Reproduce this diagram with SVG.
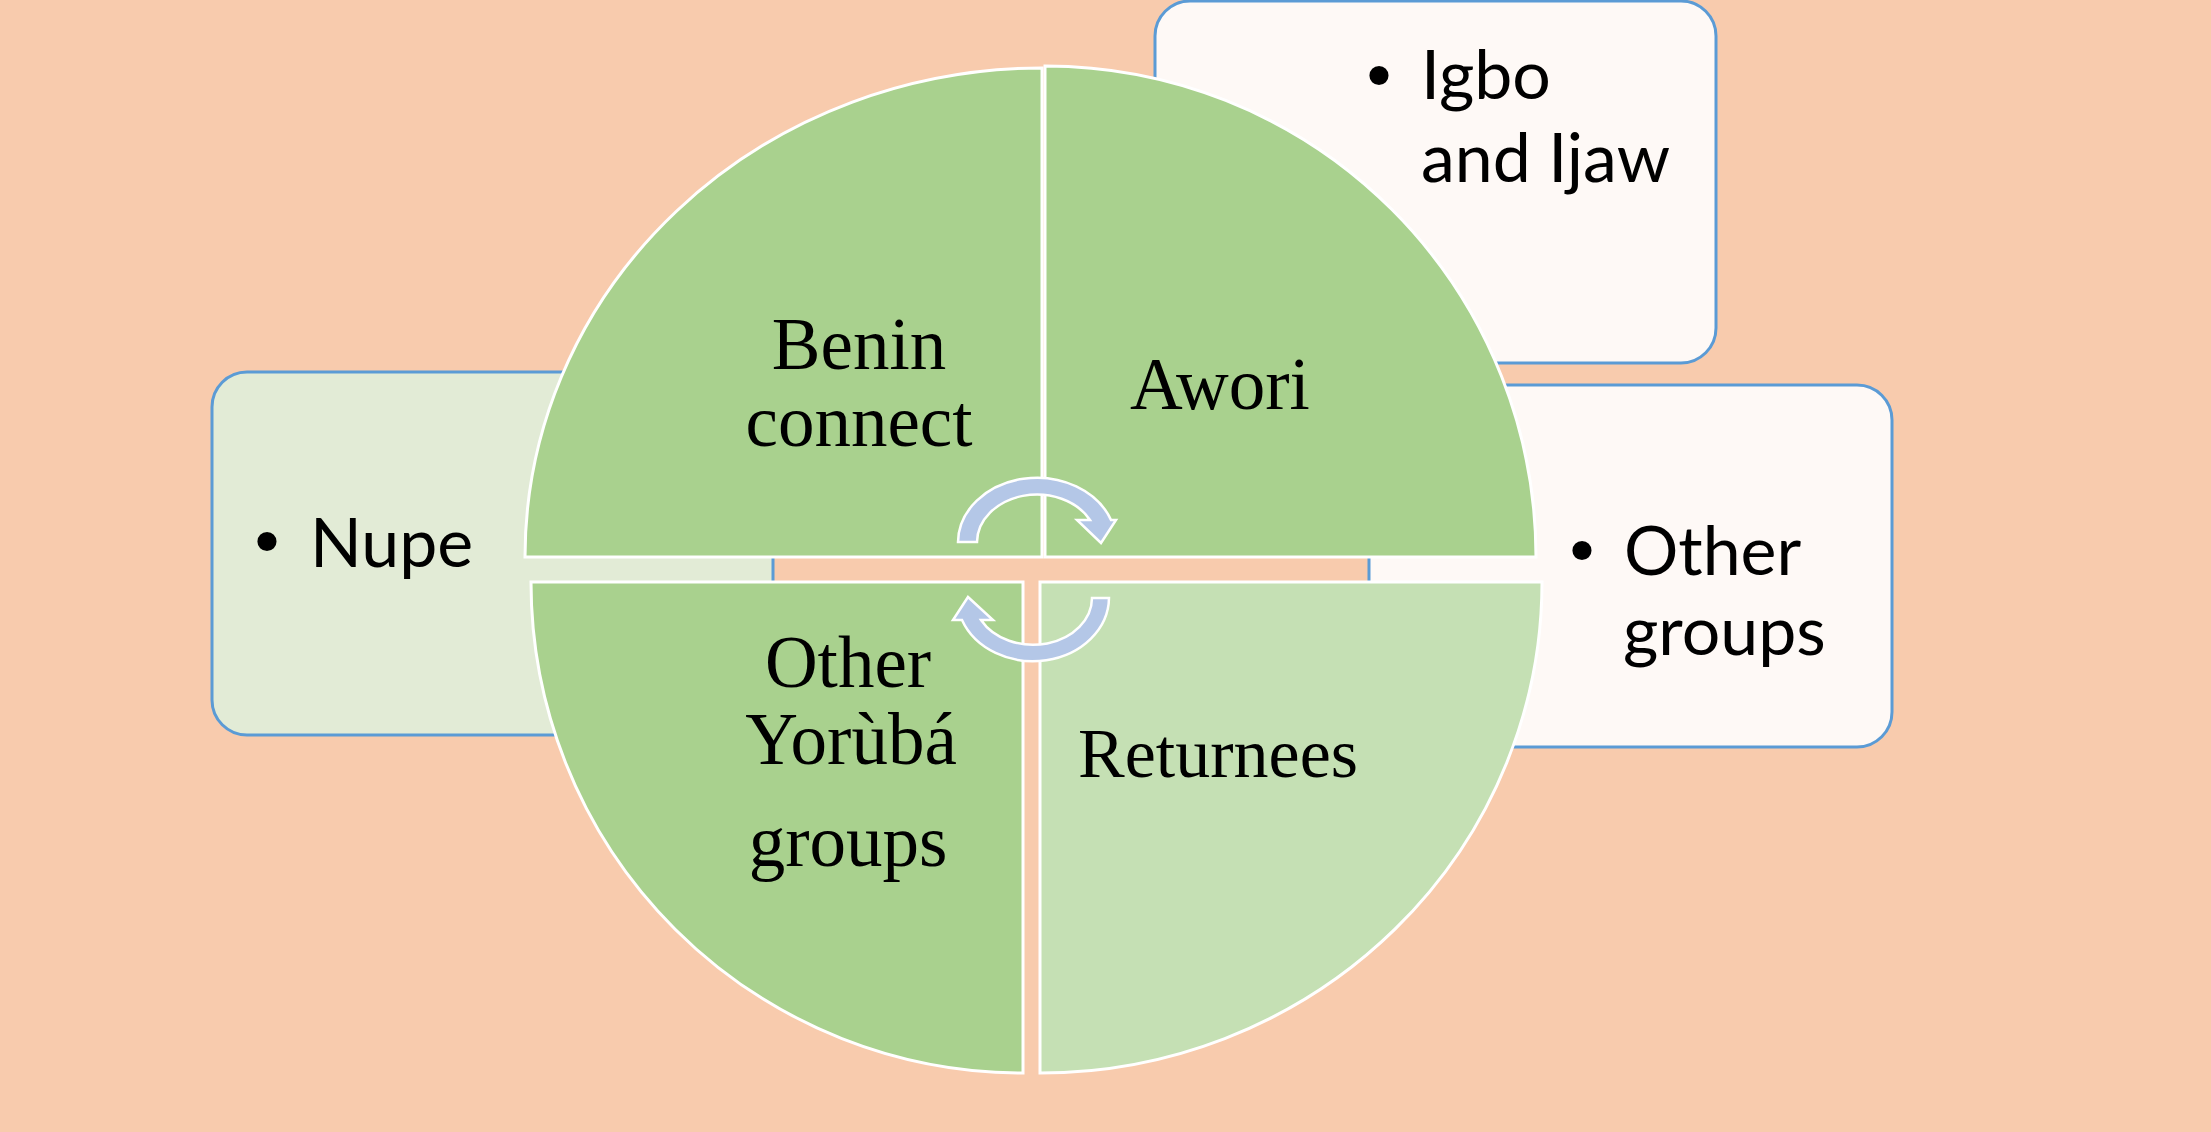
<svg xmlns="http://www.w3.org/2000/svg" width="2211" height="1132" viewBox="0 0 2211 1132">
<style>
.box{stroke:#5B9BD5;stroke-width:3}
.q{stroke:#FFFFFF;stroke-width:3}
.dk{fill:#A9D18E}
.lt{fill:#C5E0B4}
.arr{fill:#B4C7E7;stroke:#FFFFFF;stroke-width:2.5}
.serif{font-family:"Liberation Serif","Times New Roman",serif;font-size:73px;fill:#000;text-anchor:middle}
.sans{font-family:Lato,"Open Sans",sans-serif;font-size:68px;fill:#000}
.bul{font-family:"DejaVu Sans",sans-serif;font-size:66px;fill:#000;text-anchor:middle}
</style>
<rect x="0" y="0" width="2211" height="1132" fill="#F8CBAD"/>
<g id="box-nupe">
<rect class="box" x="212" y="372" width="561" height="363" rx="35" fill="#E2EBD6"/>
<text class="bul" x="267" y="566">•</text>
<text class="sans" x="310" y="567">Nupe</text>
</g>
<g id="box-igbo">
<rect class="box" x="1155" y="1" width="561" height="362" rx="35" fill="#FEF9F6"/>
<text class="bul" x="1379" y="100">•</text>
<text class="sans" x="1421" y="99">Igbo</text>
<text class="sans" x="1421" y="182">and Ijaw</text>
</g>
<g id="box-other-groups">
<rect class="box" x="1369" y="385" width="523" height="362" rx="35" fill="#FEF9F6"/>
<text class="bul" x="1582" y="575">•</text>
<text class="sans" x="1624" y="575">Other</text>
<text class="sans" x="1623" y="655">groups</text>
</g>
<g id="q-benin">
<path class="q dk" d="M 1042 557 L 525 557 A 517 489 0 0 1 1042 68 Z"/>
<text class="serif" x="859" y="369">Benin</text>
<text class="serif" x="859" y="446">connect</text>
</g>
<g id="q-awori">
<path class="q dk" d="M 1045 557 L 1045 66 A 491 491 0 0 1 1536 557 Z"/>
<text class="serif" x="1220" y="409">Awori</text>
</g>
<g id="q-other-yoruba">
<path class="q dk" d="M 1023 582 L 1023 1073 A 492 491 0 0 1 531 582 Z"/>
<text class="serif" x="848" y="687">Other</text>
<text class="serif" x="851" y="764">Yorùbá</text>
<text class="serif" x="848" y="866">groups</text>
</g>
<g id="q-returnees">
<path class="q lt" d="M 1040 582 L 1542 582 A 502 491 0 0 1 1040 1073 Z"/>
<text class="serif" x="1218" y="777" style="font-size:70px">Returnees</text>
</g>
<g id="connectors">
<path class="arr" d="M 958 542 A 79 65 0 0 1 1111 520 L 1116 520 L 1101 543 L 1077 520 L 1090 520 A 60 48 0 0 0 977 542 Z"/>
<path class="arr" d="M 1109 598 A 76 64 0 0 1 962 620 L 953 620 L 968 597 L 993 620 L 981 620 A 59 47 0 0 0 1092 598 Z"/>
</g>
</svg>
